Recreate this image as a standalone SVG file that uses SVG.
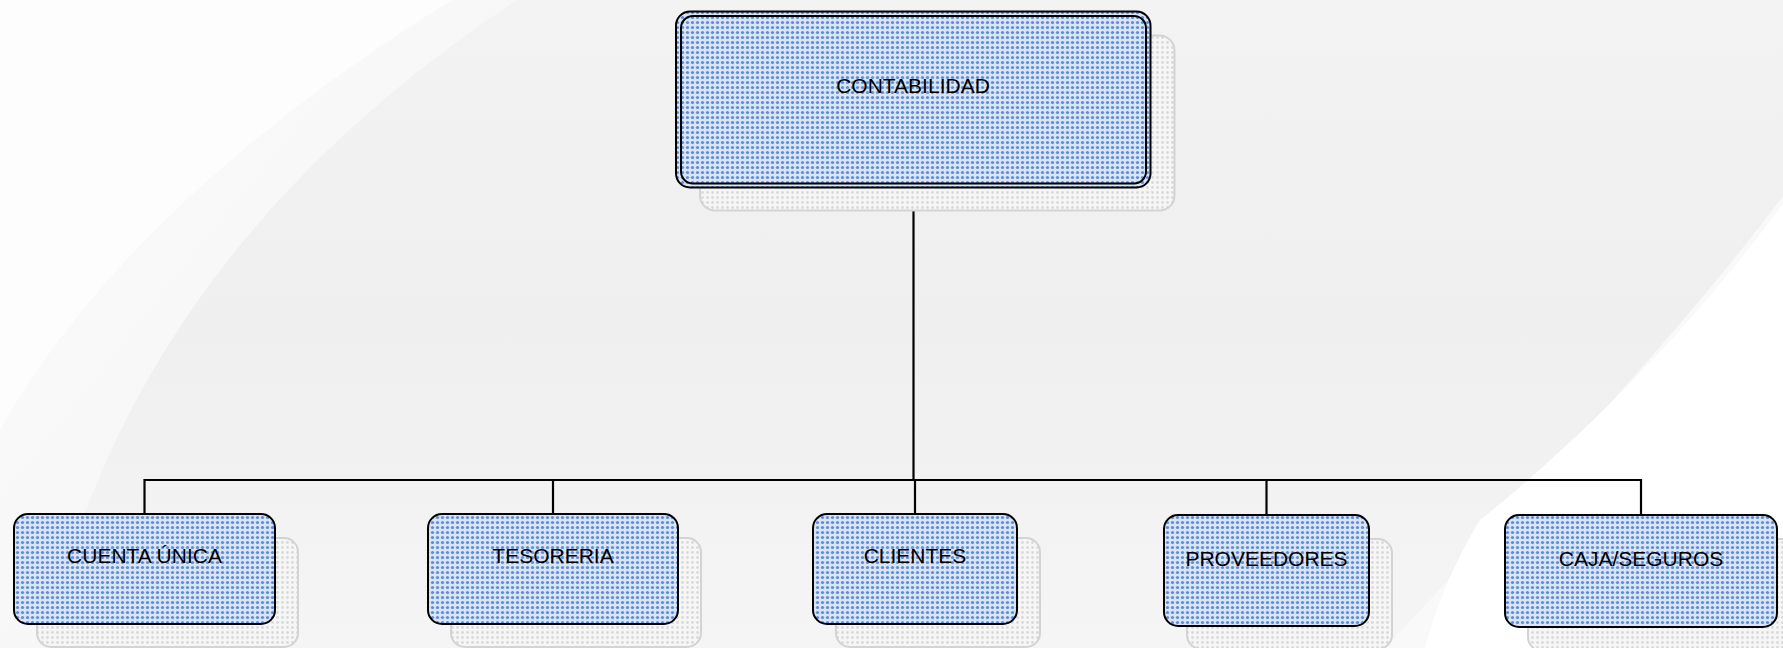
<svg xmlns="http://www.w3.org/2000/svg" width="1783" height="648" viewBox="0 0 1783 648">
  <defs>
    <linearGradient id="bgGrad" x1="0" y1="0" x2="0" y2="1">
      <stop offset="0" stop-color="#f3f3f3"/>
      <stop offset="0.5" stop-color="#efefef"/>
      <stop offset="1" stop-color="#f5f5f5"/>
    </linearGradient>
    <linearGradient id="bandLeft" x1="0" y1="0" x2="1" y2="1">
      <stop offset="0" stop-color="#fbfbfb"/>
      <stop offset="1" stop-color="#f4f4f4"/>
    </linearGradient>
    <!-- blue dotted fill for the boxes -->
    <pattern id="dotsBlue" width="5" height="5" patternUnits="userSpaceOnUse">
      <rect width="5" height="5" fill="#dae4f3"/>
      <circle cx="2.5" cy="2.5" r="1.6" fill="#5a8ddd"/>
    </pattern>
    <!-- grey dotted fill for the drop shadows -->
    <pattern id="dotsGrey" width="5" height="5" patternUnits="userSpaceOnUse">
      <rect width="5" height="5" fill="#f6f6f6"/>
      <circle cx="2.5" cy="2.5" r="1.4" fill="#dadada"/>
    </pattern>
  </defs>
  <style>
    .box { fill: url(#dotsBlue); stroke: #000; stroke-width: 2; }
    .shadow { fill: url(#dotsGrey); stroke: #d3d3d3; stroke-width: 2; }
    .label { font-family: "Liberation Sans", Arial, sans-serif; font-size: 21px; fill: #000; text-anchor: middle; }
    .link { fill: none; stroke: #000; stroke-width: 2.2; }
  </style>

  <!-- background with soft swooshes -->
  <g id="background">
    <rect width="1783" height="648" fill="url(#bgGrad)"/>
    <path d="M0,0 L517,0 C320,130 115,330 45,648 L0,648 Z" fill="url(#bandLeft)"/>
    <path d="M0,0 L452,0 C290,100 100,250 0,430 Z" fill="#fdfdfd"/>
    <path d="M1783,196 C1690,320 1560,460 1385,648 L1783,648 Z" fill="#f9f9f9"/>
    <path d="M1783,204 C1690,330 1580,440 1480,520 C1455,560 1435,610 1425,648 L1783,648 Z" fill="#ffffff"/>
  </g>

  <!-- connectors -->
  <g id="connectors">
    <line class="link" x1="913.5" y1="188" x2="913.5" y2="480"/>
    <line class="link" x1="144.5" y1="480" x2="1641" y2="480"/>
    <line class="link" x1="144.5" y1="479" x2="144.5" y2="514"/>
    <line class="link" x1="553" y1="479" x2="553" y2="514"/>
    <line class="link" x1="915" y1="479" x2="915" y2="514"/>
    <line class="link" x1="1266.5" y1="479" x2="1266.5" y2="515"/>
    <line class="link" x1="1641" y1="479" x2="1641" y2="515"/>
  </g>

  <g id="node-contabilidad">
    <rect class="shadow" x="700" y="35.5" width="474.5" height="175" rx="15"/>
    <rect class="box" x="676" y="11.5" width="474.5" height="176" rx="14"/>
    <rect class="box" x="681" y="16" width="465" height="167.5" rx="12"/>
    <text class="label" x="913" y="92.5">CONTABILIDAD</text>
  </g>

  <g id="node-cuenta-unica">
    <rect class="shadow" x="37" y="538" width="261" height="109" rx="14"/>
    <rect class="box" x="14" y="514" width="261" height="110" rx="14"/>
    <text class="label" x="144.5" y="563">CUENTA ÚNICA</text>
  </g>

  <g id="node-tesoreria">
    <rect class="shadow" x="451" y="538" width="250" height="109" rx="14"/>
    <rect class="box" x="428" y="514" width="250" height="110" rx="14"/>
    <text class="label" x="553" y="563">TESORERIA</text>
  </g>

  <g id="node-clientes">
    <rect class="shadow" x="836" y="538" width="204" height="109" rx="14"/>
    <rect class="box" x="813" y="514" width="204" height="110" rx="14"/>
    <text class="label" x="915" y="563">CLIENTES</text>
  </g>

  <g id="node-proveedores">
    <rect class="shadow" x="1187" y="539" width="205" height="110" rx="14"/>
    <rect class="box" x="1164" y="515" width="205" height="111" rx="14"/>
    <text class="label" x="1266.5" y="566">PROVEEDORES</text>
  </g>

  <g id="node-caja-seguros">
    <rect class="shadow" x="1528" y="539" width="272" height="112" rx="14"/>
    <rect class="box" x="1505" y="515" width="272" height="112" rx="14"/>
    <text class="label" x="1641" y="566">CAJA/SEGUROS</text>
  </g>
</svg>
